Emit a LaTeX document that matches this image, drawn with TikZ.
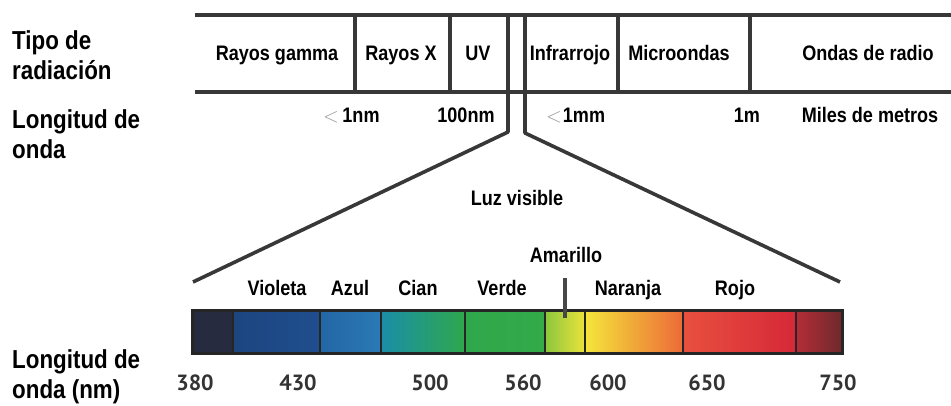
\documentclass[tikz,border=0pt]{standalone}
\usepackage{fontspec}
\setmainfont{Liberation Sans}[FakeStretch=0.86]
\newfontfamily\numfont{PT Sans}
\usepackage{tikz}
\usetikzlibrary{positioning}
\definecolor{numgray}{HTML}{333333}
\definecolor{ltgray}{HTML}{9A9A9A}
\definecolor{navy}{HTML}{262B40}
\definecolor{violetA}{HTML}{1D4580}
\definecolor{violetB}{HTML}{1F4E8E}
\definecolor{azulA}{HTML}{2466A6}
\definecolor{azulB}{HTML}{2A7AB4}
\definecolor{cianA}{HTML}{1A8EA8}
\definecolor{cianB}{HTML}{22A25A}
\definecolor{verdeA}{HTML}{2FA84C}
\definecolor{verdeB}{HTML}{34AA48}
\definecolor{amaA}{HTML}{8CC63E}
\definecolor{amaB}{HTML}{EAE43A}
\definecolor{narA}{HTML}{F4E63A}
\definecolor{narB}{HTML}{F3A834}
\definecolor{narC}{HTML}{EC6A38}
\definecolor{rojoA}{HTML}{E8503E}
\definecolor{rojoB}{HTML}{D62838}
\definecolor{oscA}{HTML}{B42C38}
\definecolor{oscB}{HTML}{6E2A2C}

\begin{document}
\begin{tikzpicture}[x=1pt,y=-1pt,
  frame/.style={line width=3.6pt,draw=black!78},
  lbl/.style={font=\fontsize{21}{24}\selectfont\bfseries,anchor=base,inner sep=0pt},
  side/.style={font=\fontsize{26}{30}\selectfont\bfseries,anchor=north west,inner sep=0pt,align=left},
  less/.style={font=\fontsize{20}{20}\selectfont,text=ltgray,anchor=base,inner sep=0pt},
  num/.style={font=\fontsize{22}{22}\selectfont\numfont\bfseries,text=numgray,anchor=base,inner sep=0pt},
  band/.style={line width=2.4pt,draw=black!85}]
  \useasboundingbox (0,0) rectangle (951,405);

  % left titles
  \node[side] (tipo) at (12,30) {Tipo de\\radiación};
  \node[side] (longa) at (12,109) {Longitud de\\onda};
  \node[side] (longb) at (12,349) {Longitud de\\onda (nm)};

  % table of radiation types
  \draw[frame] (195,15) -- (951,15);
  \draw[frame] (195,92) -- (951,92);
  \foreach \x in {355,450,618,750}
    \draw[frame] (\x,15) -- (\x,92);
  \node[lbl] (gamma) at (277,60) {Rayos gamma};
  \node[lbl] (rayosx) at (401,60) {Rayos X};
  \node[lbl] (uv) at (478,60) {UV};
  \node[lbl] (infra) at (570,60) {Infrarrojo};
  \node[lbl] (micro) at (679,60) {Microondas};
  \node[lbl] (radio) at (868,60) {Ondas de radio};

  % wavelengths
  \node[less] (lessa) at (331,122) {$<$};
  \node[lbl] (nm) at (361,122) {1nm};
  \node[lbl] (cien) at (466,122) {100nm};
  \node[less] (lessb) at (554,122) {$<$};
  \node[lbl] (mm) at (584,122) {1mm};
  \node[lbl] (metro) at (747,122) {1m};
  \node[lbl] (miles) at (870,122) {Miles de metros};

  % funnel to the visible band
  \coordinate (lt) at (508,15);
  \coordinate (lb) at (508,132);
  \coordinate (le) at (193,282);
  \coordinate (rt) at (525,15);
  \coordinate (rb) at (525,133);
  \coordinate (re) at (840,282);
  \draw[frame,line join=round] (lt) -- (lb) -- (le);
  \draw[frame,line join=round] (rt) -- (rb) -- (re);
  \node[lbl] (luz) at (517,205) {Luz visible};

  % colour names
  \node[lbl] (amarillo) at (566,262) {Amarillo};
  \coordinate (tick) at (565,318);
  \node[lbl] (violeta) at (277,295) {Violeta};
  \node[lbl] (azul) at (350,295) {Azul};
  \node[lbl] (cian) at (418,295) {Cian};
  \node[lbl] (verde) at (502,295) {Verde};
  \node[lbl] (naranja) at (628,295) {Naranja};
  \node[lbl] (rojo) at (735,295) {Rojo};

  % spectrum bar
  \fill[navy] (192,310) rectangle (233,353);
  \shade[left color=violetA,right color=violetB] (233,310) rectangle (320,353);
  \shade[left color=azulA,right color=azulB] (320,310) rectangle (381,353);
  \shade[left color=cianA,middle color=cianB,right color=verdeA] (381,310) rectangle (465,353);
  \shade[left color=verdeA,right color=verdeB] (465,310) rectangle (545,353);
  \shade[left color=amaA,right color=amaB] (545,310) rectangle (585,353);
  \shade[left color=narA,middle color=narB,right color=narC] (585,310) rectangle (683,353);
  \shade[left color=rojoA,right color=rojoB] (683,310) rectangle (796,353);
  \shade[left color=oscA,right color=oscB] (796,310) rectangle (842,353);
  \foreach \x in {233,320,381,465,545,585,683,796}
    \draw[band] (\x,310) -- (\x,353);
  \draw[line width=3pt,draw=black!85] (192,310) rectangle (842,353);
  \draw[line width=3.4pt,draw=black!72] (565,278) -- (tick);

  % wavelength scale in nm
  \node[num] (n380) at (195,390) {380};
  \node[num] (n430) at (298,390) {430};
  \node[num] (n500) at (430,390) {500};
  \node[num] (n560) at (523,390) {560};
  \node[num] (n600) at (608,390) {600};
  \node[num] (n650) at (707,390) {650};
  \node[num] (n750) at (838,390) {750};
\end{tikzpicture}
\end{document}
